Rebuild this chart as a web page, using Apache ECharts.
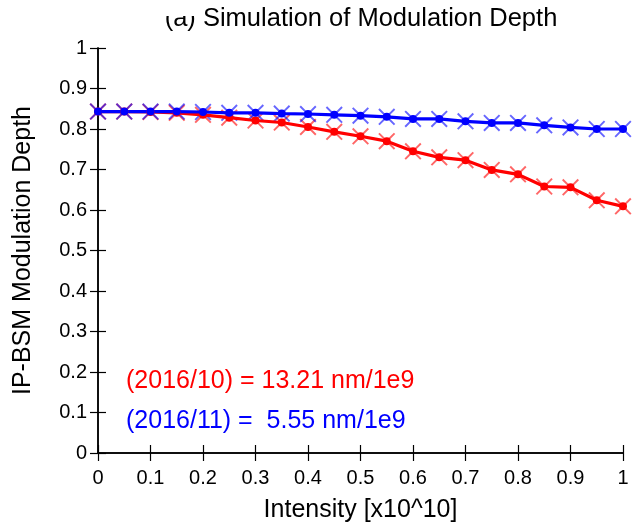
<!DOCTYPE html>
<html><head><meta charset="utf-8">
<script src="https://cdn.jsdelivr.net/npm/echarts@6/dist/echarts.min.js"></script>
<style>html,body{margin:0;padding:0;background:#fff}#c{width:634px;height:528px}</style>
</head><body><div id="c"></div>
<script>
var intensity = [0,0.05,0.1,0.15,0.2,0.25,0.3,0.35,0.4,0.45,0.5,0.55,0.6,0.65,0.7,0.75,0.8,0.85,0.9,0.95,1.0];
var depthOct = [0.843,0.843,0.842,0.840,0.835,0.828,0.821,0.816,0.805,0.793,0.782,0.770,0.745,0.730,0.723,0.699,0.688,0.658,0.656,0.624,0.609];
var depthNov = [0.843,0.843,0.843,0.843,0.842,0.840,0.840,0.838,0.837,0.835,0.833,0.830,0.825,0.825,0.819,0.815,0.815,0.809,0.804,0.800,0.800];
var tickLabels = ['0','0.1','0.2','0.3','0.4','0.5','0.6','0.7','0.8','0.9','1'];
var labelOct = '(2016/10) = 13.21 nm/1e9';
var labelNov = '(2016/11) =  5.55 nm/1e9';
var titleText = '(a) Simulation of Modulation Depth';
var xName = 'Intensity [x10^10]';
var yName = 'IP-BSM Modulation Depth';

function pairs(ys){ return intensity.map(function(x,i){ return [x, ys[i]]; }); }
var XSYM = 'path://M0,0.8L0.8,0L5,4.2L9.2,0L10,0.8L5.8,5L10,9.2L9.2,10L5,5.8L0.8,10L0,9.2L4.2,5Z';
var FONT = 'Liberation Sans, Arial, sans-serif';

function makeSeries(ys, color){
  return [
    {type:'line', data:pairs(ys), symbol:'circle', symbolSize:8, showSymbol:true,
     lineStyle:{color:color, width:3.2}, itemStyle:{color:color}, z:3, animation:false},
    {type:'scatter', data:pairs(ys), symbol:XSYM, symbolSize:17,
     itemStyle:{color:color, opacity:0.6}, z:2, animation:false}
  ];
}

var chart = echarts.init(document.getElementById('c'));
var axisLine = {show:true, lineStyle:{color:'#000', width:1.5}};
var tick = {inside:true, length:8, lineStyle:{color:'#000', width:1.2}};
chart.setOption({
  backgroundColor:'#fff',
  textStyle:{fontFamily:FONT},
  title:{text:titleText, left:361, textAlign:'center', top:6, padding:0,
         textStyle:{fontSize:25.5, fontWeight:'normal', color:'#000', fontFamily:FONT}},
  grid:{left:98, right:11, top:48, bottom:68},
  xAxis:[
    {type:'value', min:0, max:1, interval:0.1, position:'bottom',
     name:xName, nameLocation:'middle', nameGap:45,
     nameTextStyle:{fontSize:25, color:'#000', fontFamily:FONT},
     axisLine:axisLine, axisTick:tick,
     axisLabel:{fontSize:20, color:'#000', margin:15, fontFamily:FONT,
       formatter:function(v){ return tickLabels[Math.round(v*10)]; }},
     splitLine:{show:false}},
    {type:'value', min:0, max:1, interval:0.1, position:'top',
     axisLine:axisLine, axisTick:tick, axisLabel:{show:false}, splitLine:{show:false}}
  ],
  yAxis:[
    {type:'value', min:0, max:1, interval:0.1, position:'left',
     name:yName, nameLocation:'middle', nameGap:62,
     nameTextStyle:{fontSize:25, color:'#000', fontFamily:FONT},
     axisLine:axisLine, axisTick:tick,
     axisLabel:{fontSize:20, color:'#000', margin:11, fontFamily:FONT,
       formatter:function(v){ return tickLabels[Math.round(v*10)]; }},
     splitLine:{show:false}},
    {type:'value', min:0, max:1, interval:0.1, position:'right',
     axisLine:axisLine, axisTick:tick, axisLabel:{show:false}, splitLine:{show:false}}
  ],
  graphic:[
    {type:'text', x:126, y:381, z:10, style:{text:labelOct, fill:'#ff0000', font:'25px '+FONT, verticalAlign:'middle', align:'left'}},
    {type:'text', x:126, y:421, z:10, style:{text:labelNov, fill:'#0000ff', font:'25px '+FONT, verticalAlign:'middle', align:'left'}},
    {type:'rect', shape:{x:155, y:0, width:42, height:16}, style:{fill:'#fff'}, z:100}
  ],
  series: makeSeries(depthOct,'#ff0000').concat(makeSeries(depthNov,'#0000ff'))
});
</script></body></html>
